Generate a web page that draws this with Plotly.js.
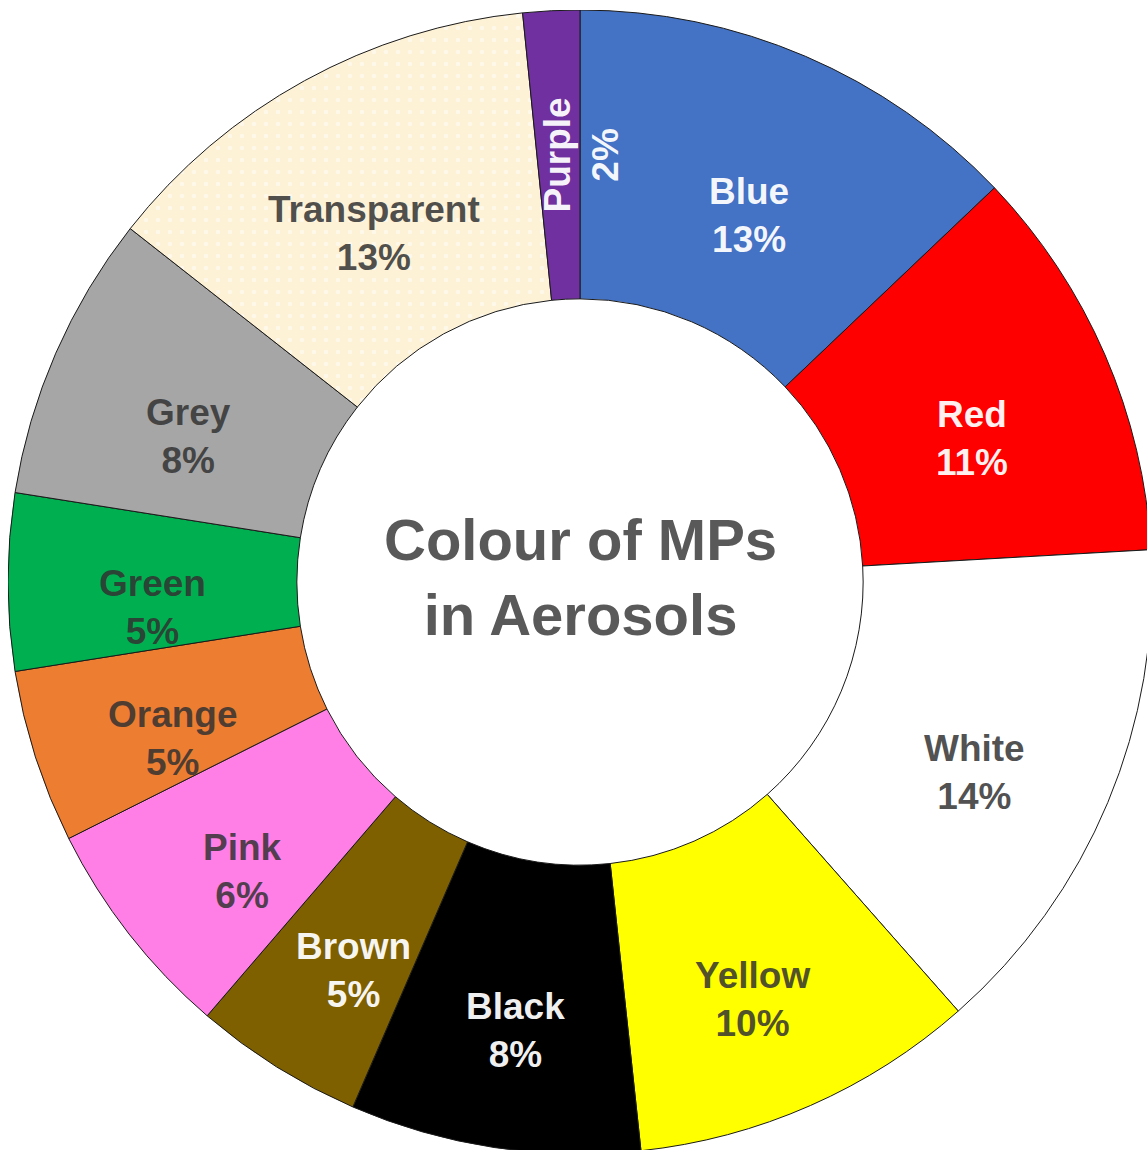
<!DOCTYPE html>
<html>
<head>
<meta charset="utf-8">
<script src="https://cdn.plot.ly/plotly-3.0.1.min.js"></script>
<style>
  html, body { margin: 0; padding: 0; background: #ffffff; overflow: hidden; width: 1147px; height: 1150px; }
  #chart { position: absolute; left: 8px; top: 10px; width: 1144px; height: 1144px; }
</style>
</head>
<body>
<div id="chart"></div>
<script>
// Data (clockwise from 12 o'clock)
const categories = ["Blue", "Red", "White", "Yellow", "Black", "Brown", "Pink", "Orange", "Green", "Grey", "Transparent", "Purple"];
const shares = [12.9, 11.2, 14.4, 9.8, 8.2, 4.8, 6.3, 4.9, 5.0, 8.1, 12.8, 1.6];
const sliceColors = ["#4472C4", "#FF0000", "#FFFFFF", "#FFFF00", "#000000", "#7F6000", "#FF7FE6", "#ED7D31", "#00B050", "#A6A6A6", "#FDF1D6", "#7030A0"];
const darkLabel = "rgba(50,50,50,0.85)";
const lightLabel = "rgba(255,255,255,0.94)";
const labelColors = [lightLabel, lightLabel, darkLabel, darkLabel, lightLabel, lightLabel, darkLabel, darkLabel, darkLabel, darkLabel, darkLabel, lightLabel];
const radialLabels = ["Purple"]; // labels written along the radius
const centerTitle = "Colour of MPs<br>in Aerosols";

const fontFam = "Liberation Sans, Arial, Helvetica, sans-serif";
const HOLE = 0.495;
const LABEL_SIZE = 37;
const LABEL_OFFSET = 26; // px, labels sit a little "below" the ring centre line in their own frame

const total = shares.reduce((a, b) => a + b, 0);

// Slice labels placed at each slice's mid-angle, halfway through the ring
const labelAnnotations = [];
let cum = 0;
categories.forEach((cat, i) => {
  const frac = shares[i] / total;
  const mid = (cum + frac / 2) * 2 * Math.PI; // clockwise from 12 o'clock
  cum += frac;
  const rho = (HOLE + 1) / 2 * 0.5; // in paper units of a square domain
  const radial = radialLabels.includes(cat);
  labelAnnotations.push({
    text: cat + "<br>" + Math.round(frac * 100) + "%",
    x: 0.5 + rho * Math.sin(mid),
    y: 0.5 + rho * Math.cos(mid),
    xref: "paper", yref: "paper",
    xanchor: "center", yanchor: "middle",
    showarrow: false,
    textangle: radial ? -90 : 0,
    xshift: radial ? LABEL_OFFSET - 3 : 0,
    yshift: radial ? 0 : -LABEL_OFFSET,
    font: { family: fontFam, size: LABEL_SIZE, color: labelColors[i], weight: "bold" }
  });
});

const pieTrace = {
  type: "pie",
  labels: categories,
  values: shares,
  sort: false,
  direction: "clockwise",
  rotation: 0,
  hole: HOLE,
  textinfo: "none",
  hoverinfo: "label+percent",
  showlegend: false,
  marker: {
    colors: sliceColors,
    line: { color: "#1a1a1a", width: 1 },
    pattern: {
      shape: categories.map(c => c === "Transparent" ? "." : ""),
      fgcolor: "#ffffff",
      fillmode: "overlay",
      size: 12,
      solidity: 0.12
    }
  }
};

const layout = {
  width: 1144,
  height: 1144,
  margin: { l: 0, r: 0, t: 0, b: 0, pad: 0 },
  paper_bgcolor: "#ffffff",
  plot_bgcolor: "#ffffff",
  annotations: labelAnnotations.concat([{
    text: centerTitle,
    x: 0.5, y: 0.5, xref: "paper", yref: "paper",
    xanchor: "center", yanchor: "middle",
    yshift: 5,
    showarrow: false,
    font: { family: fontFam, size: 58, color: "#595959", weight: "bold" }
  }])
};

Plotly.newPlot("chart", [pieTrace], layout, { displayModeBar: false, staticPlot: true });
</script>
</body>
</html>
